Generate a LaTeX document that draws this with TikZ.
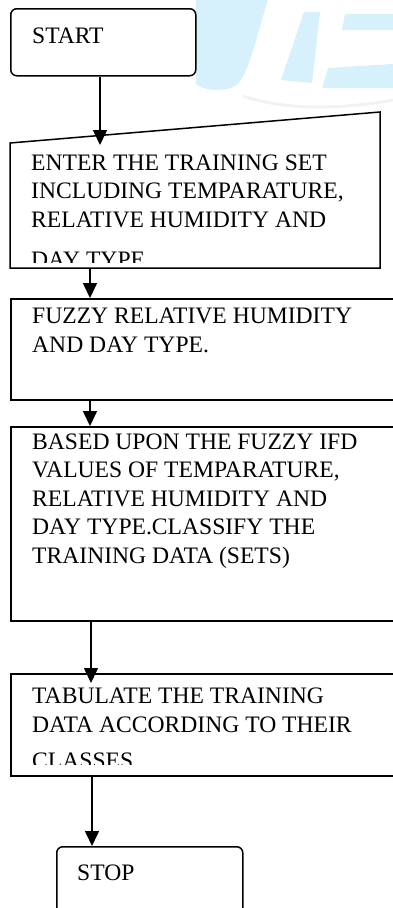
\documentclass[tikz,border=0pt]{standalone}
\usepackage{fontspec}
\setmainfont{Liberation Serif}
\usetikzlibrary{arrows.meta}
\definecolor{wm}{RGB}{214,241,251}
\definecolor{wmgray}{RGB}{240,242,244}
\begin{document}
\begin{tikzpicture}[x=1pt,y=-1pt,
  boxline/.style={draw=black,line width=1.5pt,fill=white},
  box/.style={boxline,inner sep=0pt,anchor=north west},
  lbl/.style={inner sep=0pt,anchor=base west,align=left,font=\fontsize{23.6}{28.4}\selectfont},
  conn/.style={line width=1.6pt,-{Triangle[width=14pt,length=15pt]}}]
\useasboundingbox (0,0) rectangle (393,908);
\clip (0,0) rectangle (393,908);
% faint watermark in the background
\fill[wm] (196,0) -- (268,0) .. controls (258,30) and (250,70) .. (238,84)
  .. controls (228,92) and (205,92) .. (196,84) -- cycle;
\fill[wm] (304,12) -- (320,12) -- (312,83) -- (281,80) -- cycle;
\fill[wm] (345,14) -- (393,14) -- (393,30) -- (342,30) -- cycle;
\fill[wm] (328,68) -- (393,64) -- (393,88) -- (322,88) -- cycle;
\draw[wmgray,line width=3pt] (243,96) .. controls (290,112) and (350,108) .. (393,100);

% START
\node[box,rounded corners=6pt,minimum width=185pt,minimum height=67pt] (start) at (10,8) {};
\node[lbl] (starttxt) at (32,43) {START};

% manual input box (slanted top)
\coordinate (b2nw) at (10,143);
\coordinate (b2ne) at (380,112);
\coordinate (b2se) at (380,268);
\coordinate (b2sw) at (10,268);
\draw[boxline] (b2nw) -- (b2ne) -- (b2se) -- (b2sw) -- cycle;
\begin{scope}
  \clip (0,0) rectangle (393,262);
  % anchored at the baseline of the last line
  \node[lbl] (entertxt) at (31,267) {ENTER THE TRAINING SET\\INCLUDING TEMPARATURE,\\RELATIVE HUMIDITY AND\\[11.5pt]DAY TYPE};
\end{scope}

% fuzzy box
\node[box,minimum width=390pt,minimum height=101pt] (fuzzy) at (10,298) {};
\node[lbl] (fuzzytxt) at (32,352) {FUZZY RELATIVE HUMIDITY\\AND DAY TYPE.};

% classify box
\node[box,minimum width=390pt,minimum height=194pt] (classify) at (10,426) {};
\node[lbl] (classifytxt) at (32,563) {BASED UPON THE FUZZY IFD\\VALUES OF TEMPARATURE,\\RELATIVE HUMIDITY AND\\DAY TYPE.CLASSIFY THE\\TRAINING DATA (SETS)};

% tabulate box
\node[box,minimum width=390pt,minimum height=102pt] (tabulate) at (10,673) {};
\begin{scope}
  \clip (0,0) rectangle (393,764);
  \node[lbl] (tabulatetxt) at (32,768) {TABULATE THE TRAINING\\DATA ACCORDING TO THEIR\\[7.6pt]CLASSES};
\end{scope}

% STOP
\node[box,rounded corners=6pt,minimum width=186pt,minimum height=90pt] (stop) at (56,846) {};
\node[lbl] (stoptxt) at (77,880) {STOP};

% connectors
\coordinate (a1) at (100,145);
\coordinate (a2s) at (90,268);
\coordinate (a3s) at (90,399);
\coordinate (a4s) at (91,620);
\coordinate (a4e) at (91,683);
\coordinate (a5s) at (92,775);
\draw[conn] (start.south -| a1) -- (a1);
\draw[conn] (a2s) -- (fuzzy.north -| a2s);
\draw[conn] (a3s) -- (classify.north -| a3s);
\draw[conn] (a4s) -- (a4e);
\draw[conn] (a5s) -- (stop.north -| a5s);
\end{tikzpicture}
\end{document}
